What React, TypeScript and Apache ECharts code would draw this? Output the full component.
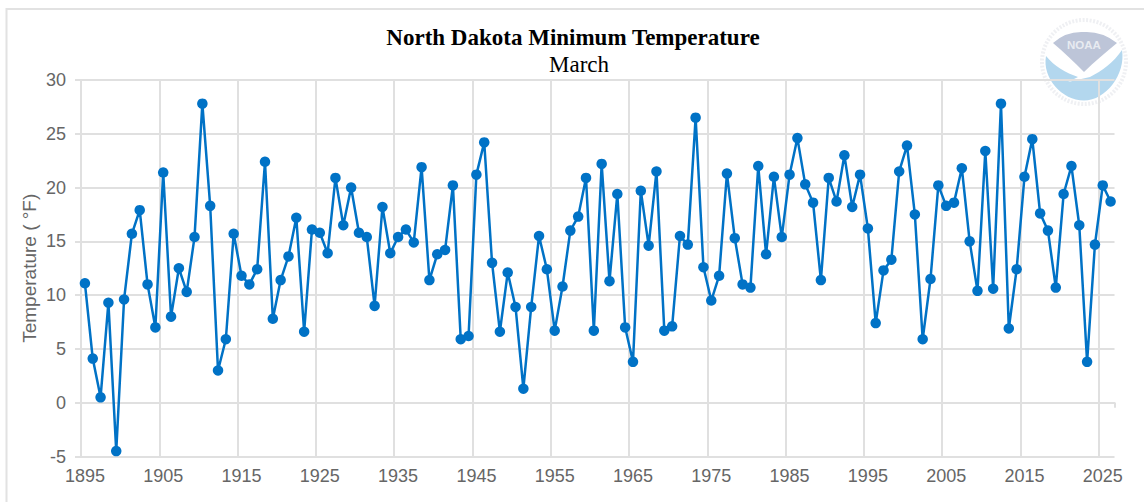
import React, { useEffect, useRef } from "react";
import * as echarts from "echarts";

const years = Array.from({ length: 132 }, (_, i) => String(1895 + i));
const minTemps = [
  11.1, 4.1, 0.5, 9.3, -4.5, 9.6, 15.7, 17.9, 11.0, 7.0,
  21.4, 8.0, 12.5, 10.3, 15.4, 27.8, 18.3, 3.0, 5.9, 15.7,
  11.8, 11.0, 12.4, 22.4, 7.8, 11.4, 13.6, 17.2, 6.6, 16.1,
  15.8, 13.9, 20.9, 16.5, 20.0, 15.8, 15.4, 9.0, 18.2, 13.9,
  15.4, 16.1, 14.9, 21.9, 11.4, 13.8, 14.2, 20.2, 5.9, 6.2,
  21.2, 24.2, 13.0, 6.6, 12.1, 8.9, 1.3, 8.9, 15.5, 12.4,
  6.7, 10.8, 16.0, 17.3, 20.9, 6.7, 22.2, 11.3, 19.4, 7.0,
  3.8, 19.7, 14.6, 21.5, 6.7, 7.1, 15.5, 14.7, 26.5, 12.6,
  9.5, 11.8, 21.3, 15.3, 11.0, 10.7, 22.0, 13.8, 21.0, 15.4,
  21.2, 24.6, 20.3, 18.6, 11.4, 20.9, 18.7, 23.0, 18.2, 21.2,
  16.2, 7.4, 12.3, 13.3, 21.5, 23.9, 17.5, 5.9, 11.5, 20.2,
  18.3, 18.6, 21.8, 15.0, 10.4, 23.4, 10.6, 27.8, 6.9, 12.4,
  21.0, 24.5, 17.6, 16.0, 10.7, 19.4, 22.0, 16.5, 3.8, 14.7,
  20.2, 18.7,
];

const titleText = "North Dakota Minimum Temperature";
const subtitleText = "March";
const yAxisName = "Temperature ( °F)";
const logoText = "NOAA";

echarts.graphic.registerShape(
  "noaaWater",
  echarts.graphic.extendPath(
    "M-38 -6 C-30 4 -18 11 -6 15 L-16 20 L6 15 C18 9 30 0 38 -12 C42 12 22 38.5 0 38.5 C-22 38.5 -42 16 -38 -6 Z",
    {}
  )
);
echarts.graphic.registerShape(
  "noaaSky",
  echarts.graphic.extendPath(
    "M-31 -19 Q-18 -31 0 -30 Q18 -31 33 -19 C22 -10 10 0 0 10 C-10 0 -20 -10 -31 -19 Z",
    {}
  )
);

export default function App() {
  const ref = useRef<HTMLDivElement>(null);
  useEffect(() => {
    const chart = echarts.init(ref.current!, undefined, { renderer: "svg" });
    chart.setOption({
      animation: false,
      backgroundColor: "#ffffff",
      title: [
        {
          text: titleText,
          left: 568,
          top: 21,
          textAlign: "center",
          textStyle: { fontFamily: "Liberation Serif", fontSize: 23, fontWeight: "bold", color: "#000000" },
        },
        {
          text: subtitleText,
          left: 574,
          top: 48,
          textAlign: "center",
          textStyle: { fontFamily: "Liberation Serif", fontSize: 23, fontWeight: "normal", color: "#000000" },
        },
      ],
      grid: { left: 81, top: 80, width: 1033.5, height: 376.5, containLabel: false },
      xAxis: {
        type: "category",
        data: years,
        boundaryGap: true,
        axisLine: { lineStyle: { color: "#e0e0e0", width: 2 } },
        axisTick: { show: true, interval: 9, length: 5, lineStyle: { color: "#e0e0e0", width: 2 } },
        splitLine: { show: true, interval: 9, showMaxLine: false, lineStyle: { color: "#e0e0e0", width: 2 } },
        axisLabel: {
          interval: 9,
          margin: 10,
          fontFamily: "Liberation Sans",
          fontSize: 18,
          color: "#666666",
        },
      },
      yAxis: {
        type: "value",
        min: -5,
        max: 30,
        interval: 5,
        name: yAxisName,
        nameLocation: "middle",
        nameGap: 42,
        nameMoveOverlap: false,
        nameTextStyle: { fontFamily: "Liberation Sans", fontSize: 19, color: "#666666" },
        axisLine: { show: false },
        axisTick: { show: true, length: 6, lineStyle: { color: "#e0e0e0", width: 2 } },
        splitLine: { show: true, lineStyle: { color: "#e0e0e0", width: 2 } },
        axisLabel: { margin: 15, fontFamily: "Liberation Sans", fontSize: 18, color: "#666666" },
      },
      series: [
        {
          type: "line",
          data: minTemps,
          symbol: "circle",
          symbolSize: 10.5,
          showAllSymbol: true,
          lineStyle: { color: "#0072c6", width: 2.5 },
          itemStyle: { color: "#0072c6" },
          z: 5,
        },
      ],
      graphic: [
        {
          type: "rect",
          silent: true,
          shape: { x: 6.5, y: 9, width: 1160, height: 520 },
          style: { fill: "none", stroke: "#e2e2e2", lineWidth: 2 },
          z: -1,
        },
        {
          type: "group",
          x: 1084,
          y: 62,
          silent: true,
          z: 10,
          children: [
            { type: "circle", shape: { cx: 0, cy: 0, r: 45 }, style: { fill: "#ffffff" } },
            {
              type: "circle",
              shape: { cx: 0, cy: 0, r: 42 },
              style: { fill: "none", stroke: "#eff0f3", lineWidth: 4, lineDash: [2, 1.5] },
            },
            { type: "noaaWater", style: { fill: "#b3d7ee" } },
            { type: "noaaSky", style: { fill: "#bdc5d8" } },
            {
              type: "text",
              x: 0,
              y: -17,
              style: {
                text: logoText,
                fontFamily: "Liberation Sans",
                fontSize: 11.5,
                fontWeight: "bold",
                fill: "#e8ebf1",
                align: "center",
                verticalAlign: "middle",
              },
            },
          ],
        },
      ],
    });
    return () => chart.dispose();
  }, []);
  return <div ref={ref} style={{ position: "fixed", left: 0, top: 0, width: 1144, height: 502 }} />;
}
